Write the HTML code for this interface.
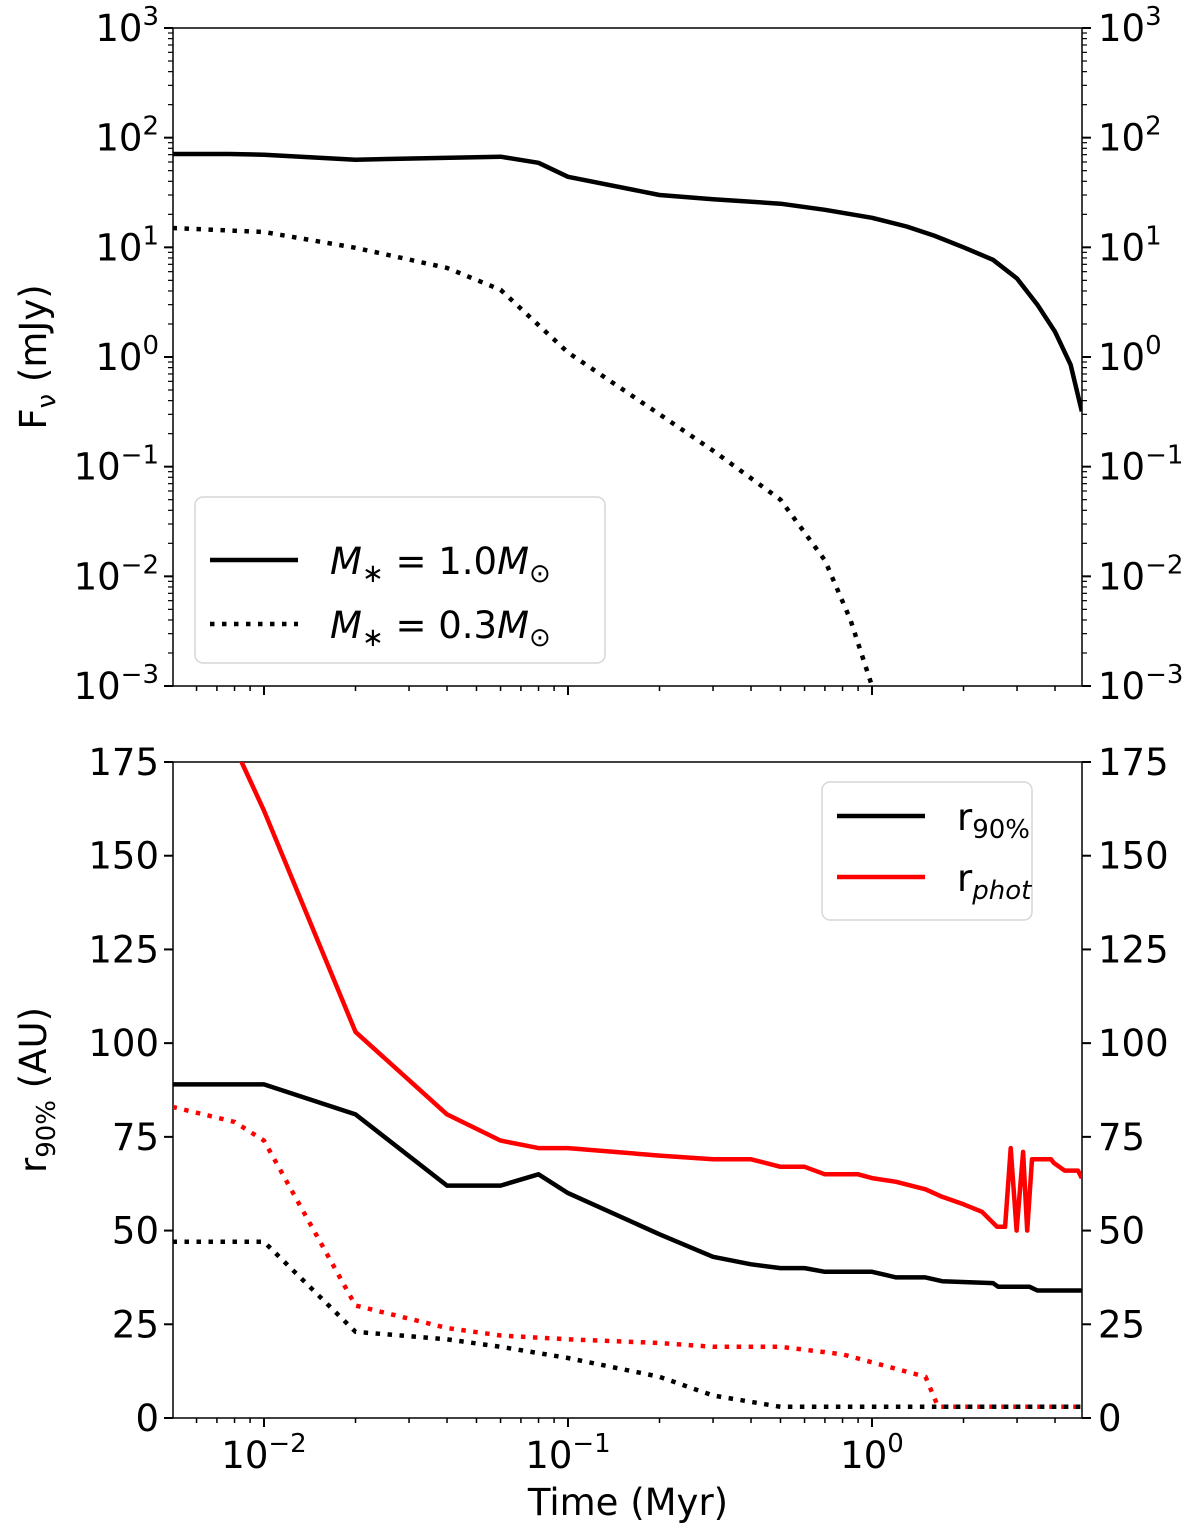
<!DOCTYPE html>
<html><head><meta charset="utf-8"><style>
body{margin:0;background:#fff}
svg text{font-family:"DejaVu Sans","Liberation Sans",sans-serif;fill:#000}
</style></head><body>
<svg id="c" width="1200" height="1531" viewBox="0 0 1200 1531" xmlns="http://www.w3.org/2000/svg"></svg>
<script>
// ---- data ----
const fluxSolidT=[0.005,0.0077,0.01,0.02,0.06,0.08,0.1,0.2,0.3,0.5,0.7,1.0,1.3,1.6,2,2.5,3,3.5,4,4.5,4.9];
const fluxSolidV=[71,71,70,63,67,59,44,30,27.5,25,22,18.6,15.5,12.8,10,7.7,5.2,3.0,1.7,0.85,0.32];
const fluxDotT=[0.005,0.01,0.02,0.04,0.06,0.1,0.2,0.3,0.5,0.7,0.85,1.0];
const fluxDotV=[15,13.8,9.9,6.5,4.1,1.1,0.3,0.14,0.05,0.014,0.004,0.001];
const r90SolidT=[0.005,0.01,0.02,0.04,0.06,0.08,0.1,0.2,0.3,0.4,0.5,0.6,0.7,1.0,1.2,1.5,1.7,2.5,2.6,3.3,3.5,4.9];
const r90SolidV=[89,89,81,62,62,65,60,49,43,41,40,40,39,39,37.5,37.5,36.5,36,35,35,34,34];
const rphotSolidT=[0.005,0.01,0.02,0.04,0.06,0.08,0.1,0.2,0.3,0.4,0.5,0.6,0.7,0.9,1.0,1.2,1.5,1.7,2.0,2.3,2.58,2.74,2.86,2.99,3.14,3.24,3.36,3.88,3.97,4.3,4.4,4.76,4.9];
const rphotSolidV=[215,162,103,81,74,72,72,70,69,69,67,67,65,65,64,63,61,59,57,55,51,51,72,50,71,50,69,69,68,66,66,66,64];
const rphotDotT=[0.005,0.008,0.01,0.02,0.04,0.06,0.1,0.2,0.3,0.5,0.8,1.5,1.65,4.9];
const rphotDotV=[83,79,74,30,24,22,21,20,19,19,17,11,3,3];
const r90DotT=[0.005,0.01,0.02,0.04,0.06,0.1,0.2,0.3,0.5,1.0,4.9];
const r90DotV=[47,47,23,21,19,16,11,6,3,3,3];
const fluxTicks=[-3,-2,-1,0,1,2,3];
const rTicks=[0,25,50,75,100,125,150,175];
const xTicks=[-2,-1,0];
// ---- layout ----
const L=173,R=1082,T1=28,B1=686,T2=762,B2=1418;
const NS="http://www.w3.org/2000/svg";
const svg=document.getElementById('c');
function X(t){return 264+(Math.log10(t)+2)*304;}
function Y1(v){return T1+(3-Math.log10(v))*(B1-T1)/6;}
function Y2(v){return B2-v*(B2-T2)/175;}
function el(tag,attrs,parent){const e=document.createElementNS(NS,tag);for(const k in attrs)e.setAttribute(k,attrs[k]);(parent||svg).appendChild(e);return e;}
const defs=el('defs',{});
['c1','c2'].forEach((id,i)=>{const cp=el('clipPath',{id:id},defs);el('rect',{x:L,y:i?T2:T1,width:R-L,height:i?B2-T2:B1-T1},cp);});
function series(ts,vs,yf,color,dash,clip,name){
  const d=ts.map((t,i)=>(i?'L':'M')+X(t).toFixed(1)+','+yf(vs[i]).toFixed(1)).join('');
  const p=el('path',{d:d,fill:'none',stroke:color,'stroke-width':4.5,'stroke-dasharray':dash,'clip-path':'url(#'+clip+')','stroke-linejoin':'round'});
  
  
}
function panel(top,bot,id){
  const r=el('rect',{x:L,y:top,width:R-L,height:bot-top,fill:'none',stroke:'#000','stroke-width':1.5});
  
  
  for(let e=-3;e<=0;e++){for(let m=1;m<10;m++){const t=m*Math.pow(10,e);const x=X(t);if(x<L-0.5||x>R+0.5)continue;
    const len=m==1?9:5;el('line',{x1:x,x2:x,y1:bot,y2:bot+len,stroke:'#000','stroke-width':m==1?2:1.5});}}
}
panel(T1,B1,'flux-panel');panel(T2,B2,'radius-panel');
fluxTicks.forEach(e=>{const y=Y1(Math.pow(10,e));
  el('line',{x1:L-9,x2:L,y1:y,y2:y,stroke:'#000','stroke-width':2});el('line',{x1:R,x2:R+9,y1:y,y2:y,stroke:'#000','stroke-width':2});
  if(e<3)for(let m=2;m<10;m++){const yy=Y1(m*Math.pow(10,e));el('line',{x1:L-5,x2:L,y1:yy,y2:yy,stroke:'#000','stroke-width':1.2});el('line',{x1:R,x2:R+5,y1:yy,y2:yy,stroke:'#000','stroke-width':1.2});}
  const s=e<0?'\u2212'+(-e):''+e;
  const a=el('text',{x:L-14,y:y+13,'font-size':37,'text-anchor':'end'});a.innerHTML='10<tspan dy="-16" font-size="26">'+s+'</tspan>';
  
  
  const b=el('text',{x:R+16,y:y+13,'font-size':37});b.innerHTML='10<tspan dy="-16" font-size="26">'+s+'</tspan>';
  
  
});
rTicks.forEach(v=>{const y=Y2(v);
  el('line',{x1:L-9,x2:L,y1:y,y2:y,stroke:'#000','stroke-width':2});el('line',{x1:R,x2:R+9,y1:y,y2:y,stroke:'#000','stroke-width':2});
  const a=el('text',{x:L-14,y:y+13,'font-size':37,'text-anchor':'end'});a.textContent=v;
  
  
  const b=el('text',{x:R+16,y:y+13,'font-size':37});b.textContent=v;
  
  
});
xTicks.forEach(e=>{const x=X(Math.pow(10,e));const s=e<0?'\u2212'+(-e):''+e;
  const a=el('text',{x:x,y:B2+50,'font-size':37,'text-anchor':'middle'});a.innerHTML='10<tspan dy="-16" font-size="26">'+s+'</tspan>';
  
  
});
series(fluxSolidT,fluxSolidV,Y1,'#000','none','c1','flux-1.0msun');
series(fluxDotT,fluxDotV,Y1,'#000','4.5,7.5','c1','flux-0.3msun');
series(r90SolidT,r90SolidV,Y2,'#000','none','c2','r90-1.0msun');
series(rphotSolidT,rphotSolidV,Y2,'#ff0000','none','c2','rphot-1.0msun');
series(rphotDotT,rphotDotV,Y2,'#ff0000','4.5,7.5','c2','rphot-0.3msun');
series(r90DotT,r90DotV,Y2,'#000','4.5,7.5','c2','r90-0.3msun');
</script>
<svg style="position:absolute;left:0;top:0" width="1200" height="1531">
<text x="46" y="357" font-size="37" text-anchor="middle" transform="rotate(-90 46 357)">F<tspan dy="9" font-size="26">ν</tspan><tspan dy="-9"> (mJy)</tspan></text>
<text x="46" y="1090" font-size="37" text-anchor="middle" transform="rotate(-90 46 1090)">r<tspan dy="9" font-size="26">90%</tspan><tspan dy="-9"> (AU)</tspan></text>
<text x="628" y="1515" font-size="37" text-anchor="middle">Time (Myr)</text>
<g>
<rect x="195" y="497" width="410" height="166" rx="8" fill="#fff" fill-opacity="0.8" stroke="#d6d6d6" stroke-width="1.5"/>
<line x1="210" x2="298" y1="560" y2="560" stroke="#000" stroke-width="4.5"/>
<line x1="210" x2="298" y1="624" y2="624" stroke="#000" stroke-width="4.5" stroke-dasharray="4.5,7.5"/>
<text x="330" y="574" font-size="37"><tspan font-style="italic">M</tspan><tspan dy="8" font-size="26">∗</tspan><tspan dy="-8"> = 1.0</tspan><tspan font-style="italic">M</tspan><tspan dy="8" font-size="26">⊙</tspan></text>
<text x="330" y="638" font-size="37"><tspan font-style="italic">M</tspan><tspan dy="8" font-size="26">∗</tspan><tspan dy="-8"> = 0.3</tspan><tspan font-style="italic">M</tspan><tspan dy="8" font-size="26">⊙</tspan></text>
</g>
<g>
<rect x="822" y="782" width="210" height="138" rx="8" fill="#fff" fill-opacity="0.8" stroke="#d6d6d6" stroke-width="1.5"/>
<line x1="837" x2="925" y1="816" y2="816" stroke="#000" stroke-width="4.5"/>
<line x1="837" x2="925" y1="877" y2="877" stroke="#ff0000" stroke-width="4.5"/>
<text x="957" y="830" font-size="37">r<tspan dy="8" font-size="26">90%</tspan></text>
<text x="957" y="891" font-size="37">r<tspan dy="8" font-size="26" font-style="italic">phot</tspan></text>
</g>
</svg>
</body></html>
